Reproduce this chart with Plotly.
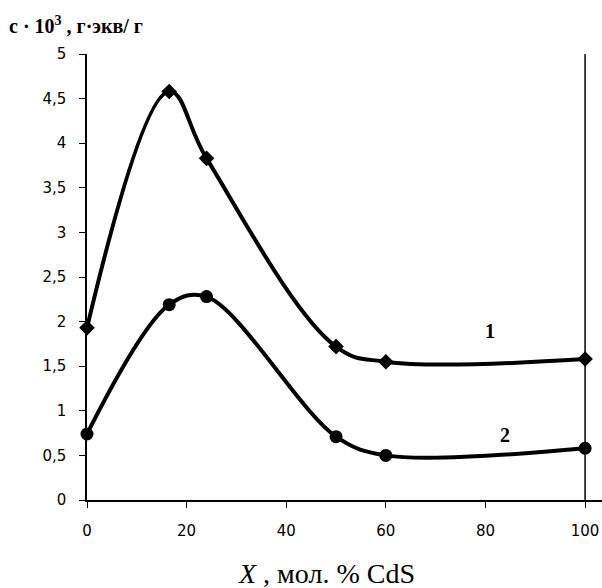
import plotly.graph_objects as go

x_vals = [0, 16.5, 24, 50, 60, 100]
series1 = [1.93, 4.58, 3.83, 1.72, 1.55, 1.58]
series2 = [0.74, 2.19, 2.28, 0.71, 0.50, 0.58]
y_ticks = [0, 0.5, 1, 1.5, 2, 2.5, 3, 3.5, 4, 4.5, 5]
y_ticktext = ["0", "0,5", "1", "1,5", "2", "2,5", "3", "3,5", "4", "4,5", "5"]
x_ticks = [0, 20, 40, 60, 80, 100]

fig = go.Figure()
fig.add_trace(go.Scatter(x=x_vals, y=series1, mode="lines+markers",
                         line=dict(color="black", width=4, shape="spline", smoothing=1.1),
                         marker=dict(symbol="diamond", size=12, color="black"),
                         showlegend=False, cliponaxis=False))
fig.add_trace(go.Scatter(x=x_vals, y=series2, mode="lines+markers",
                         line=dict(color="black", width=4, shape="spline", smoothing=1),
                         marker=dict(symbol="circle", size=13, color="black"),
                         showlegend=False, cliponaxis=False))

# vertical line at x = 100
fig.add_shape(type="line", x0=100, x1=100, y0=0, y1=5.07, xref="x", yref="y",
              line=dict(color="black", width=1.5))

fig.add_annotation(x=81, y=1.9, text="<b>1</b>", showarrow=False,
                   font=dict(family="Liberation Serif", size=20, color="black"))
fig.add_annotation(x=84, y=0.73, text="<b>2</b>", showarrow=False,
                   font=dict(family="Liberation Serif", size=20, color="black"))
fig.add_annotation(xref="paper", yref="paper", x=-0.155, y=1.065, xanchor="left", yanchor="middle",
                   text="<b>c · 10<sup>3</sup> , г·экв/ г</b>", showarrow=False,
                   font=dict(family="Liberation Serif", size=20, color="black"))
fig.add_annotation(xref="paper", yref="paper", x=0.465, y=-0.165, xanchor="center", yanchor="middle",
                   text="<i>X</i> , мол. % CdS", showarrow=False,
                   font=dict(family="Liberation Serif", size=28, color="black"))

fig.update_xaxes(range=[0, 103.4], tickvals=x_ticks, showgrid=False, zeroline=False,
                 showline=True, linecolor="black", linewidth=1.5, automargin=False,
                 ticks="outside", ticklen=6, tickcolor="black", ticklabelstandoff=10,
                 tickfont=dict(family="DejaVu Sans", size=15, color="black"))
fig.update_yaxes(range=[0, 5], tickvals=y_ticks, ticktext=y_ticktext, showgrid=False, zeroline=False,
                 showline=True, linecolor="black", linewidth=1.5, automargin=False,
                 ticks="outside", ticklen=6, tickcolor="black", ticklabelstandoff=10,
                 tickfont=dict(family="DejaVu Sans", size=15, color="black"))

fig.update_layout(width=602, height=588, plot_bgcolor="white", paper_bgcolor="white",
                  margin=dict(l=87, r=0, t=54, b=88))

fig.write_html("out.html", config={"displayModeBar": False},
               post_script="document.body.style.margin='0';document.body.style.overflow='hidden';")
